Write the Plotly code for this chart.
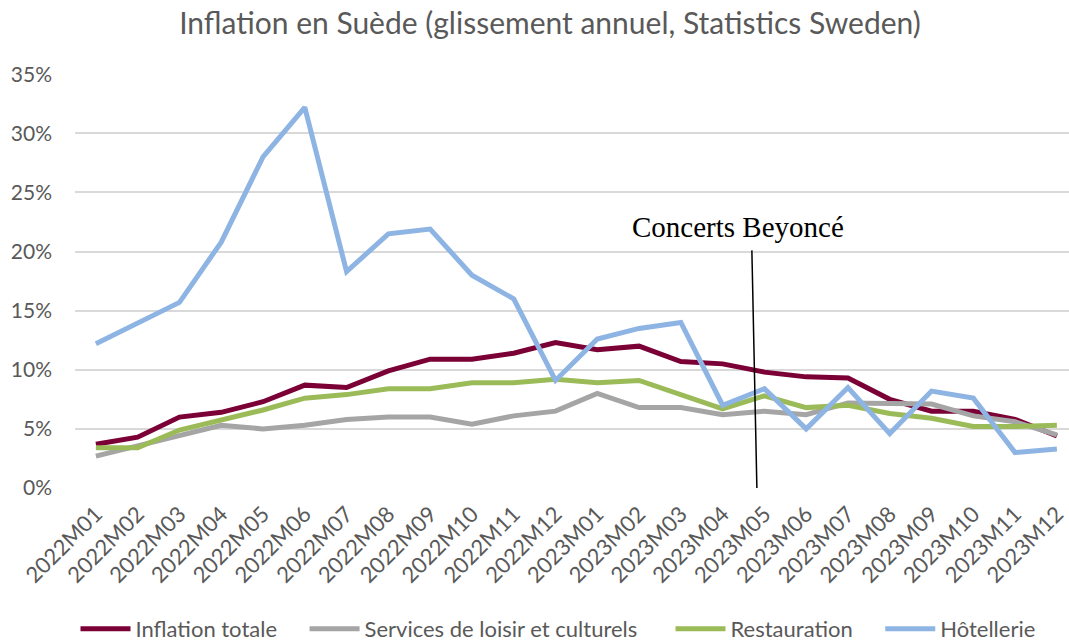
import plotly.graph_objects as go

months = ["2022M01","2022M02","2022M03","2022M04","2022M05","2022M06","2022M07","2022M08",
          "2022M09","2022M10","2022M11","2022M12","2023M01","2023M02","2023M03","2023M04",
          "2023M05","2023M06","2023M07","2023M08","2023M09","2023M10","2023M11","2023M12"]

inflation_totale = [3.7, 4.3, 6.0, 6.4, 7.3, 8.7, 8.5, 9.9, 10.9, 10.9, 11.4, 12.3,
                    11.7, 12.0, 10.7, 10.5, 9.8, 9.4, 9.3, 7.5, 6.5, 6.5, 5.8, 4.4]
services_loisir = [2.7, 3.6, 4.4, 5.3, 5.0, 5.3, 5.8, 6.0, 6.0, 5.4, 6.1, 6.5,
                   8.0, 6.8, 6.8, 6.2, 6.5, 6.2, 7.2, 7.2, 7.1, 6.1, 5.6, 4.5]
restauration = [3.4, 3.4, 4.9, 5.7, 6.6, 7.6, 7.9, 8.4, 8.4, 8.9, 8.9, 9.2,
                8.9, 9.1, 7.9, 6.7, 7.8, 6.8, 7.0, 6.3, 5.9, 5.2, 5.2, 5.3]
hotellerie = [12.2, 13.9, 15.7, 20.8, 28.0, 32.2, 18.3, 21.5, 21.9, 18.0, 16.0, 9.1,
              12.6, 13.5, 14.0, 7.0, 8.4, 5.0, 8.5, 4.6, 8.2, 7.6, 3.0, 3.3]

series_names = ["Inflation totale", "Services de loisir et culturels", "Restauration", "Hôtellerie"]
series_values = [inflation_totale, services_loisir, restauration, hotellerie]
series_colors = ["#7A0036", "#A5A5A5", "#9BBB59", "#8DB4E2"]

y_ticks = [0, 0.05, 0.10, 0.15, 0.20, 0.25, 0.30, 0.35]
y_ticktext = ["0%", "5%", "10%", "15%", "20%", "25%", "30%", "35%"]

annotation_text = "Concerts Beyoncé"

FONT = "Lato, 'Open Sans', sans-serif"
GREY = "#595959"
NB = "\u00a0"
legend_pads = [NB * 4, NB * 5, NB * 4, ""]

fig = go.Figure()
for name, vals, col, pad in zip(series_names, series_values, series_colors, legend_pads):
    fig.add_trace(go.Scatter(
        x=months, y=[v / 100 for v in vals], name=name + pad, mode="lines",
        line=dict(color=col, width=5),
    ))

# annotation line and label
fig.add_shape(type="line", xref="x", yref="y", x0=15.70, y0=0.201, x1=15.82, y1=0.0,
              line=dict(color="black", width=1.5))
fig.add_annotation(x=15.37, y=0.2206, xref="x", yref="y", text=annotation_text,
                   showarrow=False, font=dict(family="'Liberation Serif', 'Times New Roman', serif",
                                              size=29, color="black"))

plot_h = 641 - 74 - 153
fig.update_layout(
    width=1069, height=641,
    margin=dict(l=75, r=0, t=74, b=153, autoexpand=False),
    paper_bgcolor="white", plot_bgcolor="white",
    font=dict(family=FONT, color=GREY),
    title=dict(text="Inflation en Suède (glissement annuel, Statistics Sweden)",
               x=550 / 1069, xref="container", xanchor="center",
               y=1 - 23 / 641, yref="container", yanchor="middle",
               font=dict(family=FONT, size=30, color=GREY)),
    legend=dict(orientation="h", xref="paper", yref="paper",
                x=(558 - 75) / 994, xanchor="center",
                y=-(629 - 488) / plot_h, yanchor="middle",
                itemwidth=50,
                font=dict(family=FONT, size=22, color=GREY)),
    showlegend=True,
)
fig.update_xaxes(type="category", range=[-0.5, 23.29], showgrid=False, showline=False,
                 automargin=False, ticklabelstandoff=8,
                 tickangle=-45, tickfont=dict(family=FONT, size=22, color=GREY), ticks="")
fig.update_yaxes(range=[0, 0.3502], tickvals=y_ticks, ticktext=y_ticktext,
                 automargin=False,
                 showgrid=True, gridcolor="#D9D9D9", gridwidth=1.5, zeroline=False,
                 showline=False, ticks="", ticklabelstandoff=22,
                 tickfont=dict(family=FONT, size=21, color=GREY))

fig.write_html("out.html", config={"displayModeBar": False},
               post_script="document.body.style.margin='0';document.body.style.overflow='hidden';")
